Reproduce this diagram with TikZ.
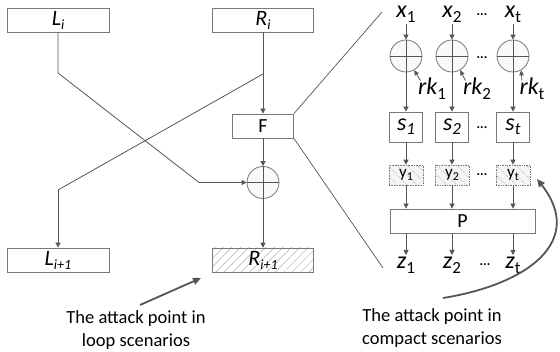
\documentclass[tikz,border=0pt]{standalone}
\usepackage{fontspec}
\setmainfont{Carlito}
\usetikzlibrary{patterns.meta,arrows.meta}
\definecolor{lg}{RGB}{85,85,85}
\definecolor{bg}{RGB}{120,120,120}
\definecolor{hg}{RGB}{175,175,175}
\newcommand\fs[1]{\fontsize{#1}{#1}\selectfont}
\newcommand\lsub[2]{\raisebox{-#1}{#2}}
\begin{document}
\begin{tikzpicture}[x=1pt,y=-1pt,
  box/.style={draw=bg, line width=0.8pt, inner sep=0pt},
  hatchbox/.style={box, pattern={Lines[angle=45,distance=6pt,line width=0.5pt]}, pattern color=hg},
  ybox/.style={draw=bg, densely dotted, line width=0.7pt, inner sep=0pt, minimum width=34pt, minimum height=20pt,
     preaction={fill=gray!8}, pattern={Lines[angle=-45,distance=7pt,line width=0.6pt]}, pattern color=hg},
  xorc/.style={circle, draw=bg, line width=0.8pt, fill=gray!5, minimum size=32pt, inner sep=0pt},
  ln/.style={draw=lg, line width=0.8pt},
  arr/.style={ln, -{Triangle[length=5pt,width=5pt]}},
  thick arr/.style={draw=lg, line width=1.8pt, -{Triangle[length=8pt,width=7pt]}},
  lab/.style={inner sep=1.5pt},
  dots/.style={inner sep=0pt, font=\fs{14}},
  note/.style={align=center, font=\fontsize{18.5}{23}\selectfont, inner sep=0pt}]
\useasboundingbox (0,0) rectangle (560,352);

% ---- Feistel part ----
\node[box, minimum width=102pt, minimum height=24pt] (Li) at (58,20) {\fs{22}\itshape L\lsub{4pt}{\fs{14}i}};
\node[box, minimum width=101pt, minimum height=24pt] (Ri) at (263,20) {\fs{22}\itshape R\lsub{4pt}{\fs{14}i}};
\node[box, minimum width=61pt, minimum height=24pt] (F) at (263,126) {\fs{20}F};
\node[xorc] (X) at (263,182.5) {};
\draw[ln] (X.north) -- (X.south) (X.west) -- (X.east);
\node[box, minimum width=102pt, minimum height=24pt] (Li1) at (58,260) {\fs{22}\itshape L\lsub{4pt}{\fs{14}i+1}};
\node[hatchbox, minimum width=101pt, minimum height=24pt] (Ri1) at (263,260) {\fs{22}\itshape R\lsub{4pt}{\fs{14}i+1}};

\coordinate (a1) at (58,73);
\coordinate (a2) at (199,182.5);
\draw[arr] (Li.south) -- (a1) -- (a2) -- (X.west);
\coordinate (b1) at (263,74);
\coordinate (b2) at (58,190);
\draw[ln] (b1) -- (b2);
\draw[arr] (b2) -- (Li1.north);
\draw[arr] (Ri.south) -- (F.north);
\draw[arr] (F.south) -- (X.north);
\draw[arr] (X.south) -- (Ri1.north);

% ---- zoom lines ----
\coordinate (t1) at (382,12);
\coordinate (t2) at (383,268);
\draw[ln, line width=0.7pt] (F.north east) -- (t1);
\draw[ln, line width=0.7pt] (F.south east) -- (t2);

% ---- round function ----
\node[lab] (x1) at (406,14) {\fs{24}\itshape x\lsub{5pt}{\fs{17}\upshape 1}};
\node[lab] (x2) at (452,14) {\fs{24}\itshape x\lsub{5pt}{\fs{17}\upshape 2}};
\node[lab] (xt) at (513,14) {\fs{24}\itshape x\lsub{5pt}{\fs{17}\upshape t}};

\node[xorc] (c1) at (406,56) {};
\node[xorc] (c2) at (452,56) {};
\node[xorc] (ct) at (513,56) {};
\foreach \c in {c1,c2,ct}{\draw[ln] (\c.north) -- (\c.south) (\c.west) -- (\c.east);}

\node[lab] (r1) at (432,89) {\fs{24}\itshape rk\lsub{5pt}{\fs{17}\upshape 1}};
\node[lab] (r2) at (477,89) {\fs{24}\itshape rk\lsub{5pt}{\fs{17}\upshape 2}};
\node[lab] (rt) at (532,89) {\fs{24}\itshape rk\lsub{5pt}{\fs{17}\upshape t}};

\node[box, minimum width=33pt, minimum height=30pt] (s1) at (406,127) {\fs{24}\itshape s\lsub{4pt}{\fs{17}1}};
\node[box, minimum width=33pt, minimum height=30pt] (s2) at (452,127) {\fs{24}\itshape s\lsub{4pt}{\fs{17}2}};
\node[box, minimum width=33pt, minimum height=30pt] (st) at (513,127) {\fs{24}\itshape s\lsub{4pt}{\fs{17}t}};

\node[ybox] (y1) at (406,175) {\fs{17}y\lsub{3pt}{\fs{12}1}};
\node[ybox] (y2) at (452,175) {\fs{17}y\lsub{3pt}{\fs{12}2}};
\node[ybox] (yt) at (513,175) {\fs{17}y\lsub{3pt}{\fs{12}t}};

\node[box, minimum width=145pt, minimum height=24pt] (P) at (462.5,221) {\fs{20}P};

\node[lab, anchor=north] (z1) at (406,255) {\fs{24}\itshape z\lsub{5pt}{\fs{17}\upshape 1}};
\node[lab, anchor=north] (z2) at (452,255) {\fs{24}\itshape z\lsub{5pt}{\fs{17}\upshape 2}};
\node[lab, anchor=north] (zt) at (513,255) {\fs{24}\itshape z\lsub{5pt}{\fs{17}\upshape t}};

\foreach \i in {1,2,t}{
  \draw[arr] (x\i.south -| c\i.north) -- (c\i.north);
  \draw[arr] (c\i.south) -- (s\i.north);
  \draw[arr] (s\i.south) -- (y\i.north);
  \draw[arr] (y\i.south) -- (y\i.south |- P.north);
  \draw[arr] (y\i.south |- P.south) -- (z\i.north -| y\i.south);
  \draw[ln, -{Triangle[length=5pt,width=4.5pt]}] ([shift={(4pt,-4pt)}]r\i.north west) -- (c\i.-60);
}

\node[dots] (d1) at (482,16) {···};
\node[dots] (d2) at (482,59) {···};
\node[dots] (d3) at (482,129) {···};
\node[dots] (d4) at (482,176) {···};
\node[dots] (d5) at (485,266) {···};

% ---- annotations ----
\node[note] (tl) at (136,330) {The attack point in\\loop scenarios};
\node[note] (tc) at (432,328) {The attack point in\\compact scenarios};
\coordinate (la) at (140,305);
\coordinate (lb) at (201,278);
\draw[thick arr] (la) -- (lb);
\coordinate (ca) at (443,298);
\coordinate (cb) at (537,179);
\draw[thick arr] (ca) .. controls (530,284) and (585,240) .. (cb);
\end{tikzpicture}
\end{document}
